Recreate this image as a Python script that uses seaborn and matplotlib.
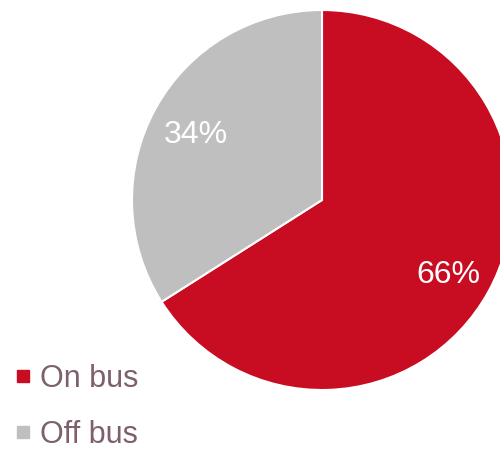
import matplotlib
matplotlib.use("Agg")
import matplotlib.pyplot as plt
import matplotlib.transforms as mtransforms
import seaborn as sns
from matplotlib.lines import Line2D

sns.set_theme(style="white")
plt.rcParams['font.family'] = ['Liberation Sans', 'DejaVu Sans']

categories = ["On bus", "Off bus"]
values = [66, 34]
colors = ["#C80C22", "#BFBFBF"]
text_color = "#7D5F6E"

fig = plt.figure(figsize=(5.0, 4.49), dpi=100)
ax = fig.add_axes([0.264, 0.1314, 0.76, 0.8463])
wedges, texts, autotexts = ax.pie(
    values, colors=colors, startangle=90, counterclock=False,
    autopct=lambda p: f"{p:.0f}%", pctdistance=0.76,
    wedgeprops=dict(edgecolor="white", linewidth=1.5),
    textprops=dict(color="white", fontsize=23))
for t in autotexts:
    t.set_transform(mtransforms.offset_copy(t.get_transform(), fig=fig,
                                            x=0, y=-5, units="dots"))
ax.set_xlim(-1, 1)
ax.set_ylim(-1, 1)
ax.set_aspect("auto")
ax.axis("off")

handles = [Line2D([], [], marker="s", linestyle="none", markersize=8.6,
                  markerfacecolor=c, markeredgecolor=c) for c in colors]
leg = fig.legend(handles, categories, loc="upper left",
                 bbox_to_anchor=(0.022, 0.19), frameon=False,
                 fontsize=22, labelcolor=text_color, handletextpad=0.15,
                 handlelength=0.8, labelspacing=0.85, borderpad=0,
                 borderaxespad=0)

fig.savefig("out.png", dpi=100)
